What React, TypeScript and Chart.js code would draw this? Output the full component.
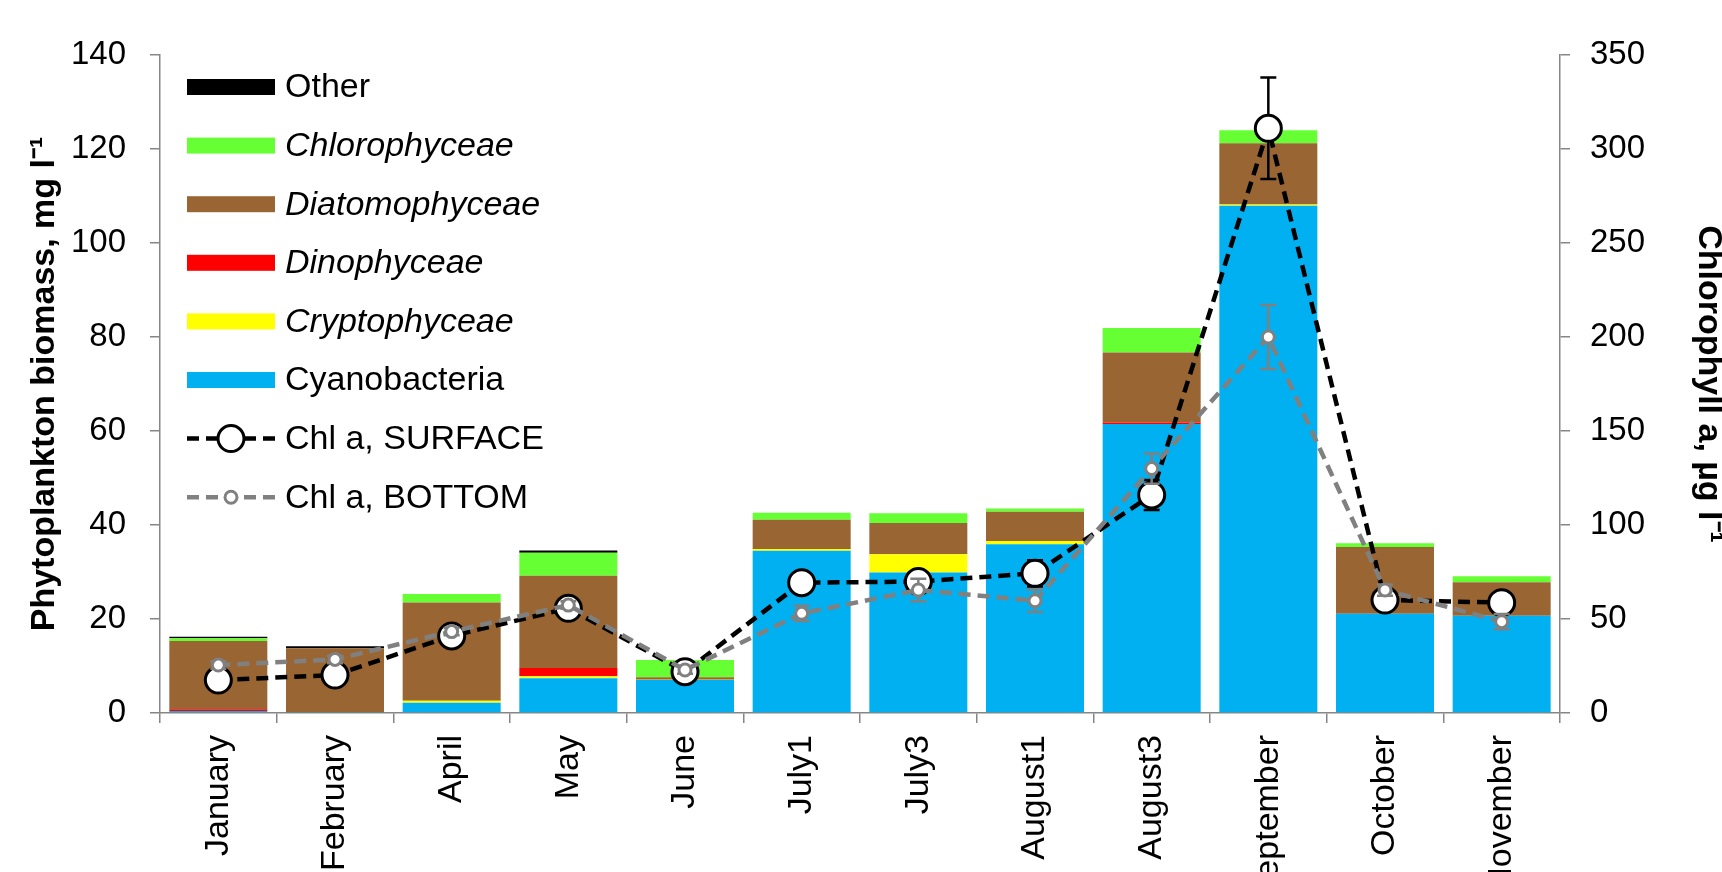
import React, { useEffect, useRef } from 'react';
import { Chart, registerables } from 'chart.js';

Chart.register(...registerables);

// ---------- data ----------
const categories = ['January', 'February', 'April', 'May', 'June', 'July1', 'July3', 'August1', 'August3', 'September', 'October', 'November'];

const cyanobacteria = [0.4, 0.1, 2.2, 7.4, 7.0, 34.5, 29.9, 35.9, 61.5, 107.9, 21.1, 20.7];
const cryptophyceae = [0, 0, 0.4, 0.4, 0.1, 0.4, 3.9, 0.7, 0, 0.3, 0, 0];
const dinophyceae = [0.4, 0, 0, 1.8, 0, 0, 0, 0, 0.3, 0, 0, 0];
const diatomophyceae = [14.5, 13.7, 20.9, 19.6, 0.5, 6.2, 6.6, 6.2, 14.9, 13.0, 14.2, 7.1];
const chlorophyceae = [0.6, 0, 1.8, 4.9, 3.7, 1.5, 2.1, 0.7, 5.2, 2.8, 0.8, 1.3];
const other = [0.3, 0.4, 0, 0.5, 0, 0, 0, 0, 0, 0, 0, 0];

const chlSurface = [17.5, 20.2, 41, 55.7, 22, 69.3, 69.9, 74.3, 116, 311, 60.1, 58.7];
const chlSurfaceErr = [2, 2, 3, 3, 2, 3, 3, 7, 8, 27, 3, 3];
const chlBottom = [25.5, 28.5, 43.3, 57.4, 22.9, 53, 65.4, 59.7, 130, 200, 65.4, 48.6];
const chlBottomErr = [2, 2, 2, 2, 2, 4, 6, 6, 8, 17, 3, 4];

const leftTicks = { min: 0, max: 140, step: 20 };
const rightTicks = { min: 0, max: 350, step: 50 };

const legendOrder = ['Other', 'Chlorophyceae', 'Diatomophyceae', 'Dinophyceae', 'Cryptophyceae', 'Cyanobacteria', 'Chl a, SURFACE', 'Chl a, BOTTOM'];
const italicLabels = ['Chlorophyceae', 'Diatomophyceae', 'Dinophyceae', 'Cryptophyceae'];

// ---------- styles ----------
const FONT = "'Liberation Sans', Arial, sans-serif";
const AXIS = '#868686';
const CANVAS_W = 1733;
const CANVAS_H = 913;

const errorBarPlugin = {
  id: 'errorBars',
  beforeDatasetDraw(chart: any, args: any) {
    const ds: any = chart.data.datasets[args.index];
    if (!ds.errors) return;
    const scale = chart.scales[ds.yAxisID];
    const ctx = chart.ctx;
    ctx.save();
    ctx.strokeStyle = ds.errorColor;
    ctx.lineWidth = 2.5;
    ctx.setLineDash([]);
    args.meta.data.forEach((pt: any, i: number) => {
      const v = ds.data[i];
      const e = ds.errors[i];
      const y1 = scale.getPixelForValue(v + e);
      const y2 = scale.getPixelForValue(v - e);
      const x = pt.x;
      ctx.beginPath();
      ctx.moveTo(x, y1);
      ctx.lineTo(x, y2);
      ctx.moveTo(x - 8, y1);
      ctx.lineTo(x + 8, y1);
      ctx.moveTo(x - 8, y2);
      ctx.lineTo(x + 8, y2);
      ctx.stroke();
    });
    ctx.restore();
  },
};

const legendPlugin = {
  id: 'customLegend',
  afterDraw(chart: any) {
    const ctx = chart.ctx;
    const area = chart.chartArea;
    const x0 = area.left + 27;
    const x1 = area.left + 115;
    const tx = area.left + 125;
    const y0 = area.top + 32;
    const dy = 58.6;
    ctx.save();
    legendOrder.forEach((label, i) => {
      const ds: any = chart.data.datasets.find((d: any) => d.label === label);
      if (!ds) return;
      const y = y0 + i * dy;
      if (ds.type === 'line') {
        ctx.strokeStyle = ds.borderColor;
        ctx.lineWidth = ds.borderWidth;
        ctx.setLineDash(ds.borderDash);
        ctx.beginPath();
        ctx.moveTo(x0, y);
        ctx.lineTo(x1, y);
        ctx.stroke();
        ctx.setLineDash([]);
        ctx.beginPath();
        ctx.arc((x0 + x1) / 2, y, ds.pointRadius, 0, Math.PI * 2);
        ctx.fillStyle = ds.pointBackgroundColor;
        ctx.fill();
        ctx.lineWidth = ds.pointBorderWidth;
        ctx.strokeStyle = ds.pointBorderColor;
        ctx.stroke();
      } else {
        ctx.fillStyle = ds.backgroundColor;
        ctx.fillRect(x0, y - 8, x1 - x0, 16);
      }
      ctx.fillStyle = '#000';
      ctx.textBaseline = 'middle';
      ctx.textAlign = 'left';
      ctx.font = (italicLabels.includes(label) ? 'italic ' : '') + '34px ' + FONT;
      ctx.fillText(label, tx, y + 1);
    });
    ctx.restore();
  },
};

export default function App() {
  const ref = useRef<HTMLCanvasElement | null>(null);

  useEffect(() => {
    if (!ref.current) return;
    document.body.style.margin = '0';
    Chart.defaults.font.family = FONT;
    const bar = (label: string, data: number[], color: string) => ({
      type: 'bar' as const,
      label,
      data,
      backgroundColor: color,
      borderWidth: 0,
      yAxisID: 'y',
      stack: 'phyto',
      order: 2,
      barPercentage: 0.84,
      categoryPercentage: 1.0,
    });
    const chart = new Chart(ref.current, {
      type: 'bar',
      data: {
        labels: categories,
        datasets: [
          bar('Cyanobacteria', cyanobacteria, '#00B0F0'),
          bar('Cryptophyceae', cryptophyceae, '#FFFF00'),
          bar('Dinophyceae', dinophyceae, '#FF0000'),
          bar('Diatomophyceae', diatomophyceae, '#996633'),
          bar('Chlorophyceae', chlorophyceae, '#66FF33'),
          bar('Other', other, '#000000'),
          {
            type: 'line',
            label: 'Chl a, SURFACE',
            data: chlSurface,
            errors: chlSurfaceErr,
            errorColor: '#000000',
            yAxisID: 'y2',
            order: 1,
            borderColor: '#000000',
            borderWidth: 4.5,
            borderDash: [12, 7],
            tension: 0,
            fill: false,
            pointRadius: 13,
            pointBorderWidth: 3,
            pointBackgroundColor: '#FFFFFF',
            pointBorderColor: '#000000',
          } as any,
          {
            type: 'line',
            label: 'Chl a, BOTTOM',
            data: chlBottom,
            errors: chlBottomErr,
            errorColor: '#808080',
            yAxisID: 'y2',
            order: 0,
            borderColor: '#808080',
            borderWidth: 4.5,
            borderDash: [12, 7],
            tension: 0,
            fill: false,
            pointRadius: 6,
            pointBorderWidth: 3,
            pointBackgroundColor: '#FFFFFF',
            pointBorderColor: '#808080',
          } as any,
        ],
      },
      options: {
        responsive: false,
        animation: false,
        layout: { padding: { top: 55, left: 0, right: 0, bottom: 0 } },
        plugins: {
          legend: { display: false },
          tooltip: { enabled: false },
        },
        scales: {
          x: {
            stacked: true,
            grid: { drawOnChartArea: false, drawTicks: true, tickLength: 10, color: AXIS, lineWidth: 1.5, offset: true },
            border: { color: AXIS, width: 1.5 },
            ticks: { minRotation: 90, maxRotation: 90, autoSkip: false, padding: 12, color: '#000', font: { size: 34 } },
            afterFit: (s: any) => { s.height = CANVAS_H - 713; },
          },
          y: {
            position: 'left',
            stacked: true,
            min: leftTicks.min,
            max: leftTicks.max,
            grid: { drawOnChartArea: false, drawTicks: true, tickLength: 10, color: AXIS, lineWidth: 1.5 },
            border: { color: AXIS, width: 1.5 },
            ticks: { stepSize: leftTicks.step, padding: 24, color: '#000', font: { size: 33 } },
            title: { display: true, text: 'Phytoplankton biomass, mg l⁻¹', color: '#000', font: { size: 34, weight: 'bold' }, padding: { top: 24, bottom: 0 } },
            afterFit: (s: any) => { s.width = 160; },
          },
          y2: {
            position: 'right',
            min: rightTicks.min,
            max: rightTicks.max,
            grid: { drawOnChartArea: false, drawTicks: true, tickLength: 10, color: AXIS, lineWidth: 1.5 },
            border: { color: AXIS, width: 1.5 },
            ticks: { stepSize: rightTicks.step, padding: 20, color: '#000', font: { size: 33 } },
            title: { display: true, text: 'Chlorophyll a, µg l⁻¹', color: '#000', font: { size: 34, weight: 'bold' }, padding: { top: 4, bottom: 0 } },
            afterFit: (s: any) => { s.width = CANVAS_W - 1560; },
          },
        },
      } as any,
      plugins: [errorBarPlugin, legendPlugin],
    });
    return () => chart.destroy();
  }, []);

  return (
    <div style={{ position: 'fixed', left: 0, top: 0, width: 1722, height: 872, overflow: 'hidden', background: '#fff' }}>
      <canvas ref={ref} width={CANVAS_W} height={CANVAS_H} style={{ display: 'block' }} />
    </div>
  );
}
